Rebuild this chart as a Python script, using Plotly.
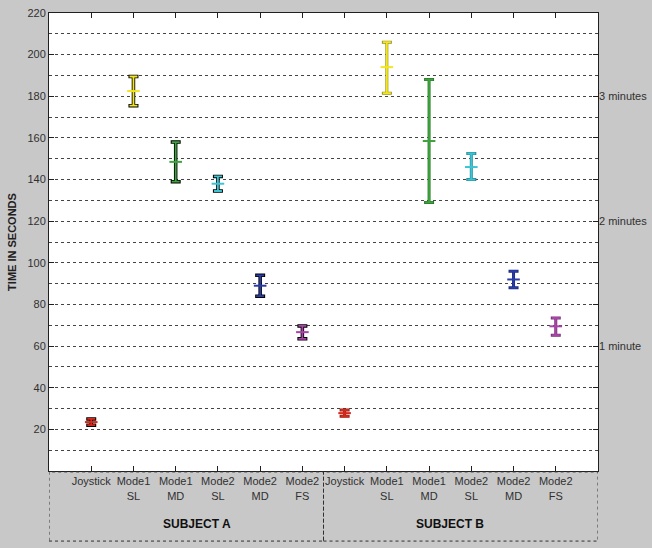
import plotly.graph_objects as go

# ---- data (seconds) ----
categories = ["Joystick", "Mode1<br>SL", "Mode1<br>MD", "Mode2<br>SL", "Mode2<br>MD", "Mode2<br>FS"]
subjects = ["SUBJECT A", "SUBJECT B"]

subjA_mean = [23.5, 182.5, 148.5, 138.0, 89.0, 66.7]
subjA_low = [22.0, 175.5, 139.0, 134.5, 84.0, 63.5]
subjA_high = [25.0, 189.5, 158.0, 141.5, 94.0, 69.7]

subjB_mean = [27.8, 194.0, 158.5, 146.0, 92.0, 69.5]
subjB_low = [26.3, 181.5, 129.0, 140.0, 88.0, 65.2]
subjB_high = [29.3, 206.0, 188.0, 152.5, 96.0, 73.5]

colors = ["#d8281c", "#f2e61e", "#3ea23e", "#3cc4d4", "#2a3ca8", "#a844a8"]
outlineB = ["#8a2218", "#9a9418", "#2a7a2a", "#288a94", "#1a2878", "#7a3078"]

minute_vals = [60, 120, 180]
minute_text = ["1 minute", "2 minutes", "3 minutes"]
ytick_vals = [20, 40, 60, 80, 100, 120, 140, 160, 180, 200, 220]

fig = go.Figure()

n = len(categories)
series = [(subjA_mean, subjA_low, subjA_high, ["#000000"] * n, 3.5),
          (subjB_mean, subjB_low, subjB_high, outlineB, 3.0)]

for s, (mean, low, high, outl, othick) in enumerate(series):
    for i in range(n):
        x = i + 1 + s * n
        up = high[i] - mean[i]
        dn = mean[i] - low[i]
        # outline
        fig.add_trace(go.Scatter(
            x=[x], y=[mean[i]], mode="markers",
            marker=dict(size=1, color=outl[i], opacity=0),
            error_y=dict(type="data", symmetric=False, array=[up], arrayminus=[dn],
                         color=outl[i], thickness=othick, width=5),
            showlegend=False, hoverinfo="skip"))
        # colored bar
        fig.add_trace(go.Scatter(
            x=[x], y=[mean[i]], mode="markers",
            marker=dict(symbol="line-ew", size=9, line=dict(color=colors[i], width=2)),
            error_y=dict(type="data", symmetric=False, array=[up], arrayminus=[dn],
                         color=colors[i], thickness=1.8, width=4),
            showlegend=False))

# secondary axis for minute labels
fig.add_trace(go.Scatter(x=[None], y=[None], yaxis="y2", showlegend=False))

tickpos = list(range(1, 2 * n + 1))
ticklab = categories * 2

fig.update_layout(
    width=652, height=548,
    margin=dict(l=49, r=54, t=13, b=77, autoexpand=False),
    paper_bgcolor="#c8c8c8",
    plot_bgcolor="#ffffff",
    font=dict(family="Liberation Sans, Arial, sans-serif", size=11, color="#303030"),
    xaxis=dict(range=[0, 2 * n + 1], tickmode="array", tickvals=tickpos, ticktext=ticklab,
               ticks="inside", ticklen=5, tickcolor="#202020", automargin=False,
               showline=True, linecolor="#202020", linewidth=1, mirror="ticks",
               showgrid=False, zeroline=False, tickfont=dict(size=11, color="#303030")),
    yaxis=dict(range=[0, 220], tickmode="array", tickvals=ytick_vals, automargin=False,
               ticks="inside", ticklen=5, tickcolor="#202020",
               showline=True, linecolor="#202020", linewidth=1, mirror="ticks",
               showgrid=True, gridcolor="#444444", gridwidth=1, griddash="dot",
               minor=dict(dtick=10, tick0=0, showgrid=True, gridcolor="#444444",
                          gridwidth=1, griddash="dot"),
               zeroline=False,
               title=dict(text="<b>TIME IN SECONDS</b>", font=dict(size=11, color="#202020"),
                          standoff=8)),
    yaxis2=dict(range=[0, 220], overlaying="y", side="right", tickmode="array",
                tickvals=minute_vals, ticktext=minute_text, ticks="", showgrid=False,
                automargin=False,
                zeroline=False, showline=False, tickfont=dict(size=11, color="#303030")),
)

# dotted group boxes and subject labels
for s, name in enumerate(subjects):
    x0 = s * n + 0.5 if s > 0 else 0
    x1 = (s + 1) * n + 0.5 if s < len(subjects) - 1 else 2 * n + 1
    fig.add_shape(type="rect", xref="x", yref="paper", x0=x0, x1=x1, y0=-0.153, y1=-0.002,
                  line=dict(color="#303030", width=1, dash="dot"), fillcolor="rgba(0,0,0,0)")
    fig.add_annotation(x=s * n + (n + 1) / 2, xref="x", y=-0.135, yref="paper",
                       text="<b>" + name + "</b>", showarrow=False,
                       font=dict(size=12, color="#101010"))

fig.write_html("out.html", config={"displayModeBar": False},
               post_script="document.body.style.margin='0';document.body.style.background='#c8c8c8';")
